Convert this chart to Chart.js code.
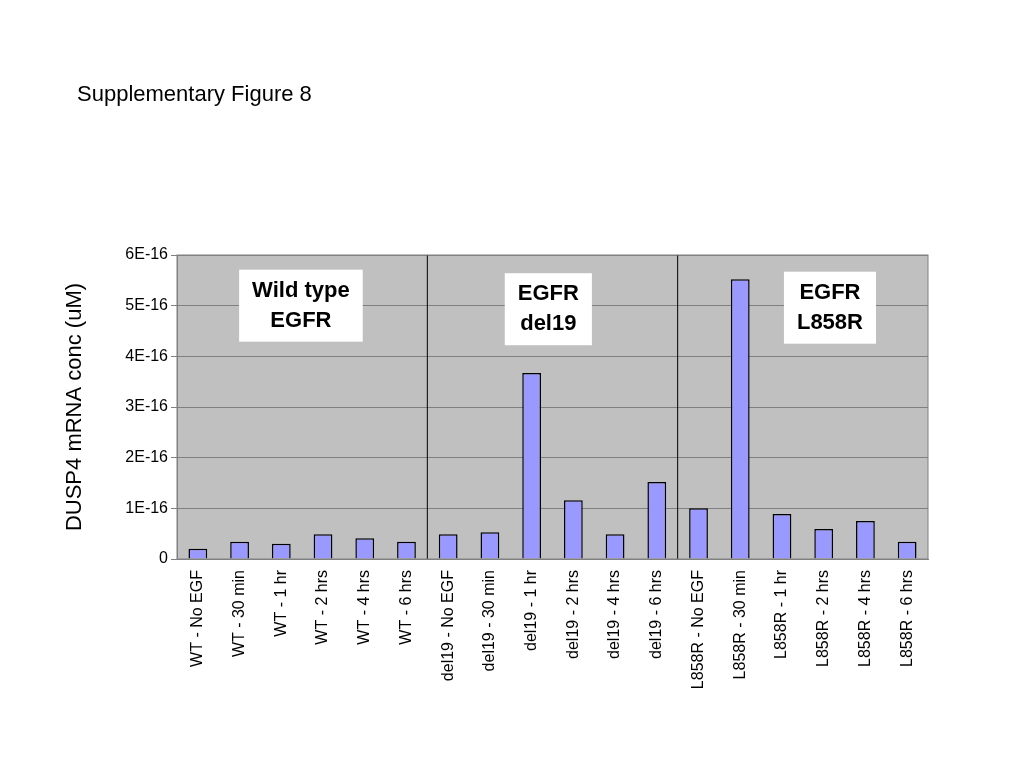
<!DOCTYPE html>
<html>
<head>
<meta charset="UTF-8">
<script src="https://cdn.jsdelivr.net/npm/chart.js"></script>
<style>
  body { margin: 0; background: #fff; }
  #wrap { position: relative; width: 1024px; height: 768px; }
  h1 { position: absolute; left: 77px; top: 81px; margin: 0; font: 22px Arial, "Liberation Sans", sans-serif; color: #000; font-weight: normal; }
</style>
</head>
<body>
<div id="wrap">
  <h1>Supplementary Figure 8</h1>
  <canvas id="c" width="1024" height="768"></canvas>
</div>
<script>
// values in units of 1E-16 uM
const labels = ['WT - No EGF', 'WT - 30 min', 'WT - 1 hr', 'WT - 2 hrs', 'WT - 4 hrs', 'WT - 6 hrs',
  'del19 - No EGF', 'del19 - 30 min', 'del19 - 1 hr', 'del19 - 2 hrs', 'del19 - 4 hrs', 'del19 - 6 hrs',
  'L858R - No EGF', 'L858R - 30 min', 'L858R - 1 hr', 'L858R - 2 hrs', 'L858R - 4 hrs', 'L858R - 6 hrs'];
const values = [0.2, 0.34, 0.3, 0.49, 0.41, 0.34,
  0.49, 0.53, 3.67, 1.16, 0.49, 1.52,
  1.0, 5.52, 0.89, 0.59, 0.75, 0.34];
const groupBoxes = [
  { lines: ['Wild type', 'EGFR'], x: 2.47, y: 5.0 },
  { lines: ['EGFR', 'del19'], x: 8.4, y: 4.93 },
  { lines: ['EGFR', 'L858R'], x: 15.15, y: 4.96 }
];
const dividers = [5.5, 11.5];

const decor = {
  id: 'decor',
  beforeDraw(chart) {
    const { ctx, chartArea: a } = chart;
    ctx.save();
    ctx.fillStyle = '#c0c0c0';
    ctx.fillRect(a.left, a.top, a.right - a.left, a.bottom - a.top);
    ctx.restore();
  },
  afterDatasetsDraw(chart) {
    const { ctx, chartArea: a, scales: { x, y } } = chart;
    ctx.save();
    ctx.strokeStyle = '#000';
    ctx.lineWidth = 1;
    dividers.forEach(d => {
      const px = (x.getPixelForValue(Math.floor(d)) + x.getPixelForValue(Math.ceil(d))) / 2;
      ctx.beginPath(); ctx.moveTo(px, a.top); ctx.lineTo(px, a.bottom); ctx.stroke();
    });
    ctx.strokeStyle = '#808080';
    ctx.strokeRect(a.left, a.top, a.right - a.left, a.bottom - a.top);
    ctx.font = 'bold 22px Arial, "Liberation Sans", sans-serif';
    ctx.textAlign = 'center';
    ctx.textBaseline = 'middle';
    groupBoxes.forEach(b => {
      const cx = x.getPixelForValue(0) + (x.getPixelForValue(1) - x.getPixelForValue(0)) * b.x;
      const cy = y.getPixelForValue(b.y);
      const w = Math.max(...b.lines.map(l => ctx.measureText(l).width)) + 26;
      const h = 72;
      ctx.fillStyle = '#fff';
      ctx.fillRect(cx - w / 2, cy - h / 2, w, h);
      ctx.fillStyle = '#000';
      ctx.fillText(b.lines[0], cx, cy - 15);
      ctx.fillText(b.lines[1], cx, cy + 15);
    });
    ctx.restore();
  }
};

new Chart(document.getElementById('c'), {
  type: 'bar',
  data: {
    labels: labels,
    datasets: [{
      data: values,
      backgroundColor: '#9999ff',
      borderColor: '#000',
      borderWidth: 1.5,
      categoryPercentage: 1,
      barPercentage: 0.45
    }]
  },
  options: {
    responsive: false,
    animation: false,
    layout: { padding: { top: 255, right: 96, left: 58, bottom: 0 } },
    plugins: { legend: { display: false }, tooltip: { enabled: false } },
    scales: {
      x: {
        grid: { display: false },
        border: { color: '#808080' },
        afterFit(s) { s.height = 209; },
        ticks: {
          color: '#000', minRotation: 90, maxRotation: 90, autoSkip: false,
          font: { family: 'Arial, "Liberation Sans", sans-serif', size: 16 }
        }
      },
      y: {
        min: 0, max: 6,
        afterFit(s) { s.width = 119; },
        grid: { color: '#808080', drawTicks: true, tickLength: 6 },
        border: { color: '#808080' },
        title: {
          display: true, text: 'DUSP4 mRNA conc (uM)', color: '#000',
          font: { family: 'Arial, "Liberation Sans", sans-serif', size: 22 }
        },
        ticks: {
          stepSize: 1, color: '#000',
          font: { family: 'Arial, "Liberation Sans", sans-serif', size: 16 },
          callback: v => v === 0 ? '0' : v + 'E-16'
        }
      }
    }
  },
  plugins: [decor]
});
</script>
</body>
</html>
